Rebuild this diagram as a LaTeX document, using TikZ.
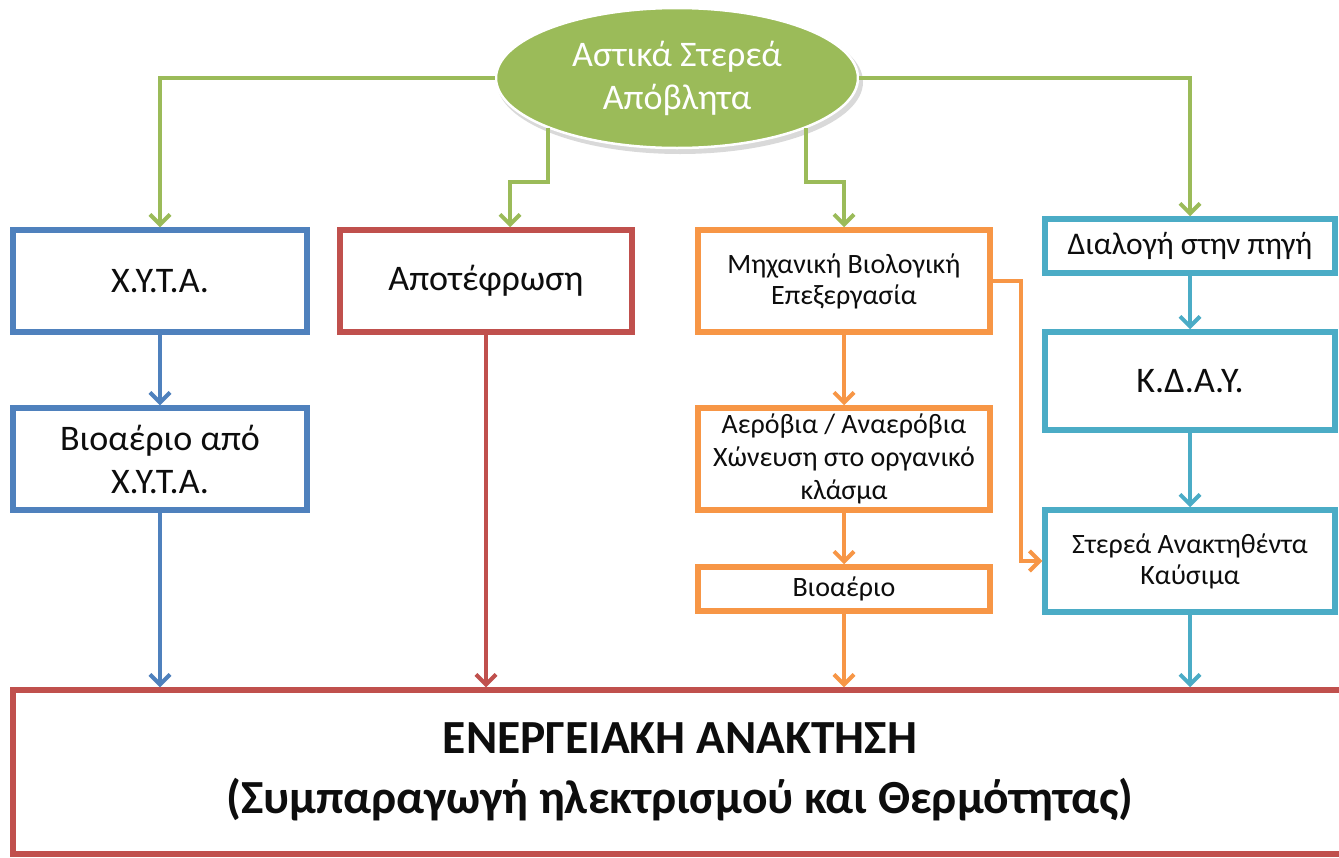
\documentclass[tikz,border=0pt]{standalone}
\usepackage{fontspec}
\setmainfont{Carlito}
\usetikzlibrary{arrows.meta,shapes.geometric,calc}
\definecolor{cgreen}{HTML}{9BBB59}
\definecolor{cblue}{HTML}{4F81BD}
\definecolor{cred}{HTML}{C0504D}
\definecolor{corange}{HTML}{F79646}
\definecolor{cteal}{HTML}{4BACC6}
\definecolor{ctext}{HTML}{0D0D0D}
\tikzset{
  box/.style={draw=#1, line width=5.5pt, fill=white, rectangle, align=center, text=ctext, inner sep=2pt},
  conn/.style={draw=#1, line width=4pt, -{Straight Barb[length=10pt,width=20pt,line width=4pt]}},
  fsA/.style={font=\fontsize{36}{43}\selectfont},
  fsB/.style={font=\fontsize{28}{31}\selectfont},
  fsC/.style={font=\fontsize{28}{33}\selectfont},
  fsD/.style={font=\fontsize{31.5}{33}\selectfont},
  fsE/.style={font=\bfseries\fontsize{47.5}{60}\selectfont},
}
\begin{document}
\begin{tikzpicture}[x=1pt,y=-1pt]
\useasboundingbox (0,0) rectangle (1339,857);
\clip (0,0) rectangle (1339,857);
\fill[white] (0,0) rectangle (1339,857);
% ellipse
\fill[black!15] (680,82) ellipse [x radius=183, y radius=72];
\node[ellipse, fill=cgreen, draw=white, line width=2.5pt, minimum width=362pt, minimum height=140pt, inner sep=0pt, text=white, align=center, fsA] (ell) at (677,78) {Αστικά Στερεά\\Απόβλητα};
% boxes
\node[box=cblue, minimum width=294pt, minimum height=102pt, fsA] (xyta) at (160,281) {Χ.Υ.Τ.Α.};
\node[box=cblue, minimum width=294pt, minimum height=102pt, fsA] (bxyta) at (160,459) {Βιοαέριο από\\Χ.Υ.Τ.Α.};
\node[box=cred, minimum width=292pt, minimum height=102pt, fsA] (apot) at (486,281) {Αποτέφρωση};
\node[box=corange, minimum width=292pt, minimum height=102pt, fsB] (mbe) at (844,281) {Μηχανική Βιολογική\\Επεξεργασία};
\node[box=corange, minimum width=292pt, minimum height=102pt, fsC] (aero) at (844,459) {Αερόβια / Αναερόβια\\Χώνευση στο οργανικό\\κλάσμα};
\node[box=corange, minimum width=292pt, minimum height=44pt, fsB] (bio) at (844,589) {Βιοαέριο};
\node[box=cteal, minimum width=290pt, minimum height=54pt, fsD] (dial) at (1190,246) {Διαλογή στην πηγή};
\node[box=cteal, minimum width=290pt, minimum height=98pt, fsA] (kday) at (1190,381) {Κ.Δ.Α.Υ.};
\node[box=cteal, minimum width=290pt, minimum height=102pt, fsB] (srf) at (1190,561) {Στερεά Ανακτηθέντα\\Καύσιμα};
\node[box=cred, minimum width=1334pt, minimum height=164pt, fsE] (energy) at (680,772) {ΕΝΕΡΓΕΙΑΚΗ ΑΝΑΚΤΗΣΗ\\(Συμπαραγωγή ηλεκτρισμού και Θερμότητας)};
% green connectors
\draw[conn=cgreen] (ell.west) -| (xyta.north);
\draw[conn=cgreen] (ell.east) -| (dial.north);
\draw[conn=cgreen] (ell.south west) -- ++(0,54) -| ([xshift=24pt]apot.north);
\draw[conn=cgreen] (ell.south east) -- ++(0,54) -| (mbe.north);
% blue
\draw[conn=cblue] (xyta.south) -- (bxyta.north);
\draw[conn=cblue] (bxyta.south) -- (bxyta.south |- energy.north);
% red
\draw[conn=cred] (apot.south) -- (apot.south |- energy.north);
% orange
\draw[conn=corange] (mbe.south) -- (aero.north);
\draw[conn=corange] (aero.south) -- (bio.north);
\draw[conn=corange] (bio.south) -- (bio.south |- energy.north);
\draw[conn=corange] (mbe.east) -- ++(28,0) |- (srf.west);
% teal
\draw[conn=cteal] (dial.south) -- (kday.north);
\draw[conn=cteal] (kday.south) -- (srf.north);
\draw[conn=cteal] (srf.south) -- (srf.south |- energy.north);
\end{tikzpicture}
\end{document}
